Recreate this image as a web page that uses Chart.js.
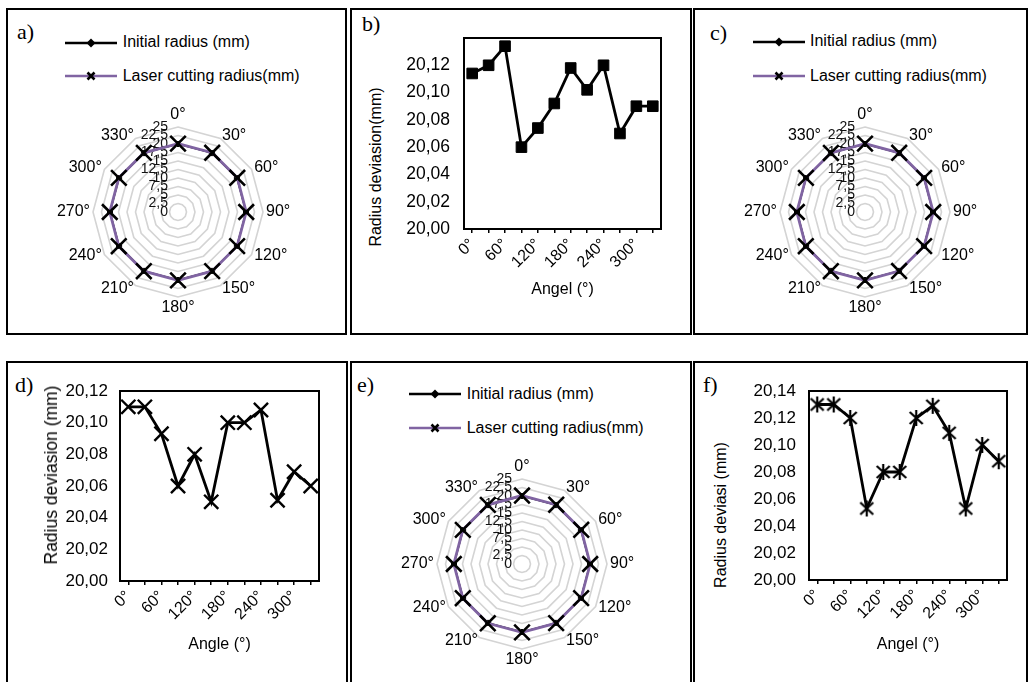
<!DOCTYPE html>
<html>
<head>
<meta charset="utf-8">
<script src="https://cdn.jsdelivr.net/npm/chart.js@4.4.1/dist/chart.umd.min.js"></script>
<style>
  html, body { margin:0; padding:0; }
  body { width:1028px; height:682px; background:#fff; position:relative; overflow:hidden;
         font-family:"Liberation Sans", Arial, sans-serif; color:#000; }
  .panel { position:absolute; border:2px solid #000; box-sizing:border-box; }
  .tag { position:absolute; font-family:"Liberation Serif","Times New Roman",serif; font-size:22px; line-height:22px; }
  canvas { position:absolute; }
  .legtxt { position:absolute; font-size:16px; line-height:18px; white-space:nowrap; }
  .legsvg { position:absolute; }
  .ytitle { position:absolute; transform:translate(-50%,-50%) rotate(-90deg); white-space:nowrap; font-size:16px; line-height:18px; }
</style>
</head>
<body>
<div class="panel" style="left:6px;top:8px;width:341px;height:327px"></div>
<div class="panel" style="left:350px;top:8px;width:342px;height:327px"></div>
<div class="panel" style="left:693px;top:8px;width:335px;height:327px"></div>
<div class="panel" style="left:6px;top:361px;width:342px;height:340px"></div>
<div class="panel" style="left:350px;top:361px;width:342px;height:340px"></div>
<div class="panel" style="left:693px;top:361px;width:335px;height:340px"></div>

<div class="tag" style="left:17px;top:21px">a)</div>
<div class="tag" style="left:362px;top:13px">b)</div>
<div class="tag" style="left:710px;top:22px">c)</div>
<div class="tag" style="left:15px;top:374px">d)</div>
<div class="tag" style="left:357px;top:374px">e)</div>
<div class="tag" style="left:703px;top:374px">f)</div>

<canvas id="ra" width="320" height="240" style="left:18px;top:92px"></canvas>
<canvas id="rc" width="320" height="240" style="left:705px;top:92px"></canvas>
<canvas id="re" width="320" height="240" style="left:362px;top:444px"></canvas>
<canvas id="lb" width="288" height="300" style="left:400px;top:20px"></canvas>
<canvas id="ld" width="300" height="300" style="left:40px;top:370px"></canvas>
<canvas id="lf" width="295" height="300" style="left:730px;top:370px"></canvas>

<div class="ytitle" style="left:376px;top:167px">Radius deviasion(mm)</div>
<div class="ytitle" style="left:51px;top:475px;font-size:17.5px">Radius deviasion (mm)</div>
<div class="ytitle" style="left:721px;top:515px">Radius deviasi (mm)</div>

<script>
// ---------------- data ----------------
const angleLabels = ['0°','30°','60°','90°','120°','150°','180°','210°','240°','270°','300°','330°'];
const initialRadius = [20,20,20,20,20,20,20,20,20,20,20,20];
const radiusB = [20.114,20.120,20.134,20.060,20.074,20.092,20.118,20.102,20.120,20.070,20.090,20.090];
const radiusD = [20.110,20.110,20.093,20.060,20.080,20.050,20.100,20.100,20.108,20.051,20.069,20.060];
const radiusF = [20.130,20.130,20.120,20.053,20.080,20.080,20.120,20.129,20.109,20.053,20.100,20.088];
const legendLabels = ['Initial radius (mm)','Laser cutting radius(mm)'];
const radarTickStep = 2.5;
const radarMax = 25;

const FONT = '"Liberation Sans", Arial, sans-serif';
const PURPLE = '#8064A2';

function comma(v, d) {
  return (d === undefined ? String(v) : v.toFixed(d)).replace('.', ',');
}

// ---------------- legends (HTML) ----------------
function addLegend(x, y1, y2, tx) {
  const rows = [
    {y:y1, txt:legendLabels[0], svg:'<line x1="0" y1="8" x2="52" y2="8" stroke="#000" stroke-width="2.5"/><path d="M26 3.5 L30.5 8 L26 12.5 L21.5 8 Z" fill="#000"/>'},
    {y:y2, txt:legendLabels[1], svg:'<line x1="0" y1="8" x2="52" y2="8" stroke="'+PURPLE+'" stroke-width="2.5"/><path d="M22.5 4.5 L29.5 11.5 M29.5 4.5 L22.5 11.5" stroke="#000" stroke-width="2.6"/>'}
  ];
  rows.forEach(r => {
    const s = document.createElementNS('http://www.w3.org/2000/svg','svg');
    s.setAttribute('width','52'); s.setAttribute('height','16'); s.setAttribute('class','legsvg');
    s.style.left = x + 'px'; s.style.top = (r.y - 8) + 'px';
    s.innerHTML = r.svg;
    document.body.appendChild(s);
    const t = document.createElement('div');
    t.className = 'legtxt'; t.textContent = r.txt;
    t.style.left = tx + 'px'; t.style.top = (r.y - 9.5) + 'px';
    document.body.appendChild(t);
  });
}
addLegend(65, 42.7, 76, 122.7);
addLegend(753, 41.7, 76, 810);
addLegend(409, 394.3, 428.3, 466.7);

// ---------------- radar charts ----------------
// tick labels right-aligned beside the 0° axis, point labels placed Excel-style
const radarText = {
  id: 'radarText',
  beforeDatasetsDraw(chart) {
    const s = chart.scales.r, ctx = chart.ctx;
    ctx.save();
    ctx.font = '14px ' + FONT;
    ctx.fillStyle = '#111';
    ctx.textAlign = 'right';
    ctx.textBaseline = 'middle';
    s.ticks.forEach(t => {
      const d = s.getDistanceFromCenterForValue(t.value);
      ctx.fillText(comma(t.value), s.xCenter - 10, s.yCenter - d);
    });
    ctx.font = '16px ' + FONT;
    ctx.fillStyle = '#000';
    const dist = s.drawingArea + 3;
    chart.data.labels.forEach((lab, i) => {
      const deg = i * 360 / chart.data.labels.length;
      const p = s.getPointPosition(i, dist);
      if (deg === 0) { ctx.textAlign = 'center'; ctx.textBaseline = 'bottom'; ctx.fillText(lab, p.x, p.y - 1); }
      else if (deg === 180) { ctx.textAlign = 'center'; ctx.textBaseline = 'top'; ctx.fillText(lab, p.x, p.y); }
      else {
        ctx.textAlign = deg < 180 ? 'left' : 'right';
        ctx.textBaseline = 'middle';
        ctx.fillText(lab, p.x, p.y);
      }
    });
    ctx.restore();
  }
};

function radarChart(id, laser) {
  new Chart(document.getElementById(id), {
    type: 'radar',
    data: {
      labels: angleLabels,
      datasets: [
        { label: legendLabels[1], data: laser, order: 0, borderColor: PURPLE, borderWidth: 2.8, fill: false,
          pointStyle: 'crossRot', pointRadius: 11, pointBorderColor: '#000', pointBorderWidth: 2.6 },
        { label: legendLabels[0], data: initialRadius, order: 1, borderColor: '#000', borderWidth: 1.5, fill: false,
          pointStyle: 'rectRot', pointRadius: 3, pointBackgroundColor: '#000', pointBorderColor: '#000', pointBorderWidth: 1 }
      ]
    },
    options: {
      responsive: false, animation: false,
      layout: { padding: { left: 35, right: 35, top: 35, bottom: 35 } },
      plugins: { legend: { display: false }, tooltip: { enabled: false } },
      scales: {
        r: {
          min: 0, max: radarMax,
          ticks: { display: false, stepSize: radarTickStep },
          grid: { circular: false, color: '#d4d4d4', lineWidth: 1.6 },
          angleLines: { display: false },
          pointLabels: { display: false }
        }
      }
    },
    plugins: [radarText]
  });
}
radarChart('ra', radiusB);
radarChart('rc', radiusD);
radarChart('re', radiusF);

// ---------------- line charts ----------------
const plotBorder = {
  id: 'plotBorder',
  beforeDatasetsDraw(chart) {
    const {ctx, chartArea: a} = chart;
    ctx.save();
    ctx.strokeStyle = '#000'; ctx.lineWidth = 2;
    ctx.strokeRect(a.left, a.top, a.right - a.left, a.bottom - a.top);
    ctx.restore();
  }
};

function makeStar() {
  const c = document.createElement('canvas');
  c.width = 18; c.height = 18;
  const g = c.getContext('2d');
  g.strokeStyle = '#000'; g.lineWidth = 2.2; g.lineCap = 'butt';
  g.beginPath();
  g.moveTo(2.5, 3); g.lineTo(15.5, 15);
  g.moveTo(15.5, 3); g.lineTo(2.5, 15);
  g.moveTo(9, 1); g.lineTo(9, 17);
  g.stroke();
  return c;
}

function lineChart(id, values, o) {
  new Chart(document.getElementById(id), {
    type: 'line',
    data: {
      labels: angleLabels,
      datasets: [{ data: values, borderColor: '#000', borderWidth: 2.8, tension: 0, fill: false, clip: false,
        pointStyle: o.pointStyle, pointRadius: o.pointRadius, pointBackgroundColor: '#000',
        pointBorderColor: '#000', pointBorderWidth: o.pointBorderWidth }]
    },
    options: {
      responsive: false, animation: false,
      layout: { padding: o.padding },
      plugins: { legend: { display: false }, tooltip: { enabled: false } },
      scales: {
        x: {
          offset: true,
          ticks: { autoSkip: false, maxRotation: 45, minRotation: 45, padding: 2, color: '#000',
                   font: { size: 16, family: FONT },
                   callback: function (v, i) { return i % 2 === 0 ? this.getLabelForValue(v) : ''; } },
          grid: { display: true, drawOnChartArea: false, drawTicks: true, tickLength: 4, color: '#000', lineWidth: 1.5 },
          border: { display: false },
          title: { display: true, text: o.xTitle, color: '#000', font: { size: 16, family: FONT },
                   padding: { top: 0, bottom: o.titlePad } },
          afterFit: s => { s.height = o.xH; }
        },
        y: {
          min: 20, max: o.yMax,
          ticks: { stepSize: 0.02, padding: o.yPad, color: '#000', font: { size: o.yFont, family: FONT },
                   callback: v => (o.hideTop && v > o.yMax - 0.005) ? '' : comma(v, 2) },
          grid: { display: false },
          border: { display: false },
          afterFit: s => { s.width = o.yW; }
        }
      }
    },
    plugins: [plotBorder]
  });
}

lineChart('lb', radiusB, { pointStyle: 'rect', pointRadius: 7.5, pointBorderWidth: 1,
  padding: { left: 0, top: 18, right: 27, bottom: 0 }, yW: 64, xH: 91, titlePad: 20.4, yPad: 6, yFont: 17.5,
  yMax: 20.14, hideTop: true, xTitle: 'Angel (°)' });
lineChart('ld', radiusD, { pointStyle: 'crossRot', pointRadius: 10, pointBorderWidth: 2.4,
  padding: { left: 0, top: 21, right: 21, bottom: 0 }, yW: 80, xH: 89, titlePad: 15.4, yPad: 4, yFont: 17,
  yMax: 20.12, hideTop: false, xTitle: 'Angle (°)' });
lineChart('lf', radiusF, { pointStyle: makeStar(), pointRadius: 8, pointBorderWidth: 2,
  padding: { left: 0, top: 21, right: 18, bottom: 0 }, yW: 79, xH: 90, titlePad: 15.4, yPad: 5, yFont: 17,
  yMax: 20.14, hideTop: false, xTitle: 'Angel (°)' });
</script>
</body>
</html>
